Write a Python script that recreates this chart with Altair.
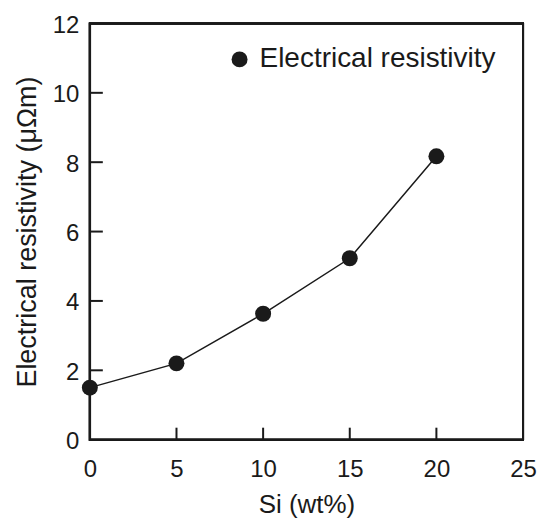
import altair as alt
import pandas as pd

si = [0, 5, 10, 15, 20]
resistivity = [1.5, 2.2, 3.63, 5.23, 8.17]
series_name = "Electrical resistivity"
x_ticks = [0, 5, 10, 15, 20, 25]
y_ticks = [0, 2, 4, 6, 8, 10, 12]
x_inner = [5, 10, 15, 20]
y_inner = [2, 4, 6, 8, 10]

FONT = "Liberation Sans, Arial, sans-serif"
INK = "#1a1a1a"
W, H = 434, 417
X_DOM, Y_DOM = [0, 25], [0, 12]

df = pd.DataFrame({"si": si, "rho": resistivity, "series": [series_name] * len(si)})
dfx = pd.DataFrame({"v": x_inner})
dfy = pd.DataFrame({"v": y_inner})

xs = alt.Scale(domain=X_DOM, nice=False, zero=False)
ys = alt.Scale(domain=Y_DOM, nice=False, zero=False)

xax = alt.Axis(values=x_ticks, title="Si (wt%)", ticks=False, grid=False,
               labelFontSize=24, titleFontSize=26, labelPadding=18, titlePadding=10,
               labelFont=FONT, titleFont=FONT, labelColor=INK, titleColor=INK,
               labelFlush=False, labelOverlap=False,
               domainColor=INK, domainWidth=1.5, titleFontWeight="normal")
yax = alt.Axis(values=y_ticks, title="Electrical resistivity (μΩm)", ticks=False, grid=False,
               labelFontSize=24, titleFontSize=27, labelPadding=11, titlePadding=11,
               labelOffset=2,
               labelFont=FONT, titleFont=FONT, labelColor=INK, titleColor=INK,
               labelFlush=False, labelOverlap=False,
               domainColor=INK, domainWidth=1.5, titleFontWeight="normal")

line = alt.Chart(df).mark_line(color=INK, strokeWidth=1.5).encode(
    x=alt.X("si:Q", scale=xs, axis=xax),
    y=alt.Y("rho:Q", scale=ys, axis=yax),
)

# inward ticks: short rules starting at the left / bottom edges
yticks = alt.Chart(dfy).mark_rule(color=INK, strokeWidth=2).encode(
    y=alt.Y("v:Q", scale=ys), x=alt.value(0), x2=alt.value(13)
)
xticks = alt.Chart(dfx).mark_rule(color=INK, strokeWidth=2).encode(
    x=alt.X("v:Q", scale=xs), y=alt.value(H), y2=alt.value(H - 12)
)

# frame around the plot area
frame = alt.Chart(df).mark_rect(fill="transparent", stroke=INK, strokeWidth=2).encode(
    x=alt.value(0), x2=alt.value(W), y=alt.value(0), y2=alt.value(H)
)

points = alt.Chart(df).mark_point(filled=True, size=256, opacity=1, shape="circle").encode(
    x=alt.X("si:Q", scale=xs),
    y=alt.Y("rho:Q", scale=ys),
    color=alt.Color("series:N", scale=alt.Scale(range=[INK]),
                    legend=alt.Legend(title=None, orient="none", legendX=136, legendY=22,
                                      symbolSize=256, symbolType="circle", symbolFillColor=INK,
                                      symbolStrokeWidth=0, labelFontSize=28, labelFont=FONT,
                                      labelColor=INK, labelOffset=6, labelLimit=500, padding=0)),
)

chart = alt.layer(frame, line, yticks, xticks, points).properties(
    width=W, height=H, background="white",
).configure_view(stroke=INK, strokeWidth=1.5)

chart.save("out.html", embed_options={"renderer": "svg", "actions": False})
